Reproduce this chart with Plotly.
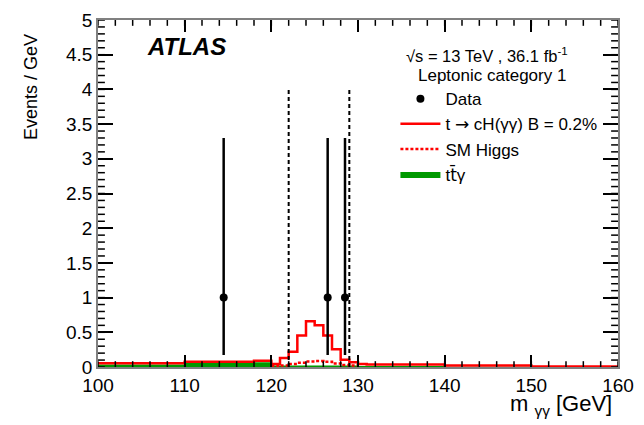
import plotly.graph_objects as go

# ---- data ----
bg_edges = [100, 110, 120, 130, 140, 150, 160]
bg_vals = [0.035, 0.07, 0.02, 0.015, 0.004, 0.0]

sig_edges = [100, 110, 118, 120, 121, 122, 123, 124, 125, 126, 127, 128, 129, 130, 131, 140, 150, 160]
sig_vals = [0.055, 0.075, 0.09, 0.045, 0.13, 0.22, 0.455, 0.66, 0.60, 0.455, 0.255, 0.105, 0.067, 0.045, 0.035, 0.02, 0.008]

higgs_edges = [120, 121, 122, 123, 124, 125, 126, 127, 128, 129, 130]
higgs_vals = [0.01, 0.02, 0.045, 0.06, 0.08, 0.085, 0.075, 0.05, 0.03, 0.02]

data_x = [114.5, 126.5, 128.5]
data_y = [1, 1, 1]
data_err_up = [2.30, 2.30, 2.30]
data_err_dn = [0.827, 0.827, 0.827]

window_lo, window_hi, window_h = 122, 129, 4.0

x_range = [100, 160]
y_range = [0, 5]
x_minor = [100 + 2 * i for i in range(31)]
y_minor = [round(0.1 * i, 2) for i in range(51)]

FONT = "Liberation Sans, Arial, sans-serif"
TICKC = "black"


def step(edges, vals):
    return list(edges), list(vals) + [vals[-1]]


def closed_step(edges, vals):
    xs, ys = [edges[0]], [0]
    for i, v in enumerate(vals):
        xs += [edges[i], edges[i + 1]]
        ys += [v, v]
    xs.append(edges[-1])
    ys.append(0)
    return xs, ys


fig = go.Figure()

bx, by = closed_step(bg_edges, bg_vals)
fig.add_trace(go.Scatter(x=bx, y=by, mode="lines", line=dict(width=0, color="#009900"),
                         fill="toself", fillcolor="#009900",
                         name="t<span style='font-family:DejaVu Sans'>t\u0304</span>\u03b3",
                         legendrank=4, legendgroup="d"))

hx, hy = step(higgs_edges, higgs_vals)
fig.add_trace(go.Scatter(x=hx, y=hy, mode="lines", line=dict(shape="hv", width=2.5, color="#ff0000", dash="3px,2px"),
                         name="SM Higgs", legendrank=3, legendgroup="c"))

sx, sy = step(sig_edges, sig_vals)
fig.add_trace(go.Scatter(x=sx, y=sy, mode="lines", line=dict(shape="hv", width=2.5, color="#ff0000"),
                         name="t <span style='font-family:DejaVu Sans'>\u2192</span> cH(\u03b3\u03b3) B = 0.2%",
                         legendrank=2, legendgroup="b"))

fig.add_trace(go.Scatter(x=[window_lo, window_lo, None, window_hi, window_hi],
                         y=[0, window_h, None, 0, window_h], mode="lines",
                         line=dict(color="black", width=2, dash="4px,3px"), showlegend=False, hoverinfo="skip"))

fig.add_trace(go.Scatter(x=data_x, y=data_y, mode="markers", marker=dict(color="black", size=8),
                         error_y=dict(type="data", array=data_err_up, arrayminus=data_err_dn,
                                      color="black", thickness=2.5, width=0),
                         name="Data", legendrank=1, legendgroup="a"))

fig.update_xaxes(range=x_range, dtick=10, ticks="inside", ticklen=12, tickwidth=2, tickcolor=TICKC,
                 showline=True, linecolor="#808080", linewidth=1.5, mirror="allticks", showgrid=False,
                 tickfont=dict(size=19, color="black"))
fig.update_yaxes(range=y_range, dtick=0.5, ticks="inside", ticklen=15, tickwidth=2, tickcolor=TICKC,
                 showline=True, linecolor="#808080", linewidth=1.5, mirror="allticks", showgrid=False,
                 tickfont=dict(size=19, color="black"))

# minor inside ticks on all four sides
PLOT_W, PLOT_H = 528.0, 357.5
shapes = []
fx = 6 / PLOT_H
for v in x_minor:
    shapes.append(dict(type="line", xref="x", yref="paper", x0=v, x1=v, y0=0, y1=fx,
                       line=dict(color=TICKC, width=1.5), layer="above"))
    shapes.append(dict(type="line", xref="x", yref="paper", x0=v, x1=v, y0=1, y1=1 - fx,
                       line=dict(color=TICKC, width=1.5), layer="above"))
fy = 7 / PLOT_W
for v in y_minor:
    shapes.append(dict(type="line", xref="paper", yref="y", x0=0, x1=fy, y0=v, y1=v,
                       line=dict(color=TICKC, width=1.5), layer="above"))
    shapes.append(dict(type="line", xref="paper", yref="y", x0=1, x1=1 - fy, y0=v, y1=v,
                       line=dict(color=TICKC, width=1.5), layer="above"))


def px_x(p):
    return (p - 98) / PLOT_W


def px_y(p):
    return (367.5 - p) / PLOT_H


annos = [
    dict(x=px_x(146), y=px_y(37), text="<b><i>ATLAS</i></b>", xanchor="left", yanchor="middle",
         font=dict(family=FONT, size=24, color="black")),
    dict(x=px_x(493), y=px_y(46), text="\u221as = 13 TeV , 36.1 fb<sup>-1</sup>", xanchor="center", yanchor="middle",
         font=dict(family=FONT, size=16.5, color="black")),
    dict(x=px_x(498), y=px_y(67), text="Leptonic category 1", xanchor="center", yanchor="middle",
         font=dict(family=FONT, size=17, color="black")),
    dict(x=px_x(622), y=px_y(407), text="m <sub>\u03b3\u03b3</sub> [GeV]", xanchor="right", yanchor="middle",
         font=dict(family=FONT, size=22, color="black")),
    dict(x=px_x(30), y=px_y(79), text="Events / GeV", textangle=-90, xanchor="center", yanchor="middle",
         font=dict(family=FONT, size=18, color="black")),
]
for a in annos:
    a.update(xref="paper", yref="paper", showarrow=False)

fig.update_layout(
    width=644, height=425,
    margin=dict(l=98, r=18, t=10, b=57.5),
    paper_bgcolor="white", plot_bgcolor="white",
    annotations=annos,
    shapes=shapes,
    showlegend=True,
    legend=dict(x=px_x(400), y=px_y(73), xanchor="left", yanchor="top",
                bgcolor="rgba(0,0,0,0)", font=dict(family=FONT, size=17, color="black"),
                traceorder="grouped", itemwidth=40, tracegroupgap=0),
    font=dict(family=FONT),
)

fig.write_html("out.html")
